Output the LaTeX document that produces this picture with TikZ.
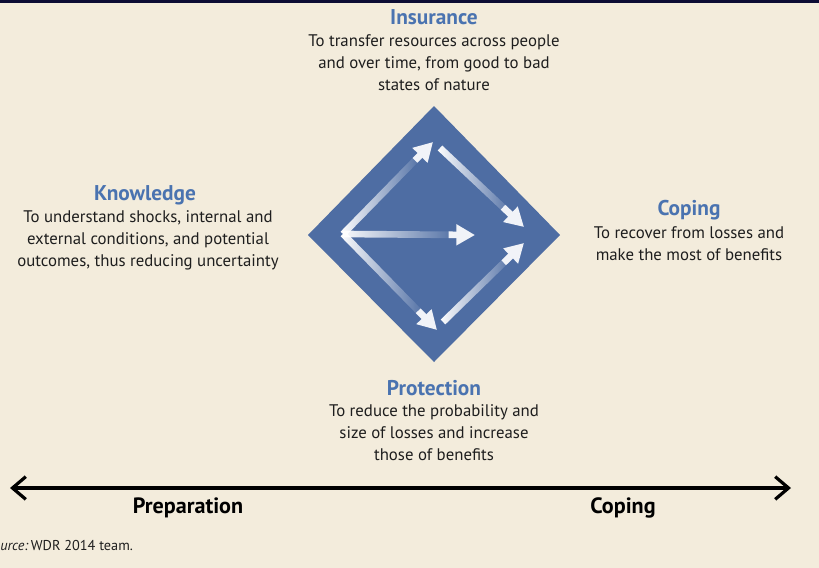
\documentclass[tikz,border=0pt]{standalone}
\usepackage{fontspec}
\setmainfont{PT Sans}
\usetikzlibrary{arrows.meta,fadings,calc}
\definecolor{bgcream}{RGB}{243,236,220}
\definecolor{diamondblue}{RGB}{78,109,163}
\definecolor{titleblue}{RGB}{74,115,176}
\definecolor{navyband}{RGB}{12,12,52}
\definecolor{bodytext}{RGB}{30,30,30}
\tikzset{
  titletext/.style={font=\fontsize{16}{18}\selectfont\bfseries, text=titleblue, inner sep=0pt, anchor=center},
  desctext/.style={font=\fontsize{12.6}{16.6}\selectfont, text=bodytext, align=center, inner sep=0pt, anchor=north},
  axislabel/.style={font=\fontsize{16.6}{18}\selectfont\bfseries, text=black, inner sep=0pt},
  shaft/.style={draw=white, line width=5pt, path fading=east},
  headtip/.style={draw=white!92!diamondblue, line width=5pt, -{Triangle[length=14pt,width=15pt]}},
  timeline/.style={draw=black, line width=2.3pt, {Straight Barb[length=10pt,width=17pt,line width=2.4pt]}-{Straight Barb[length=10pt,width=17pt,line width=2.4pt]}}
}
\begin{document}
\begin{tikzpicture}[x=0.75pt,y=-0.75pt]
\fill[bgcream] (0,0) rectangle (819,568);
\useasboundingbox (0,0) rectangle (819,568);
\fill[navyband] (0,0) rectangle (819,3);
% diamond
\fill[diamondblue] (308,235) -- (434,106) -- (560,235) -- (434,362) -- cycle;
% arrow coordinates
\coordinate (o) at (343,234);
\coordinate (t) at (433,142);
\coordinate (m) at (475,235);
\coordinate (b) at (437,330);
\coordinate (ts) at (440,148);
\coordinate (re1) at (524,227);
\coordinate (bs) at (443,322);
\coordinate (re2) at (524,243);
% shafts with fading
\path[shaft] (o) -- ($(o)!0.85!(t)$);
\path[shaft] (o) -- ($(o)!0.85!(m)$);
\path[shaft] (o) -- ($(o)!0.85!(b)$);
\path[shaft] (ts) -- ($(ts)!0.85!(re1)$);
\path[shaft] (bs) -- ($(bs)!0.85!(re2)$);
% heads
\draw[headtip] ($(o)!0.8!(t)$) -- (t);
\draw[headtip] ($(o)!0.8!(m)$) -- (m);
\draw[headtip] ($(o)!0.8!(b)$) -- (b);
\draw[headtip] ($(ts)!0.75!(re1)$) -- (re1);
\draw[headtip] ($(bs)!0.75!(re2)$) -- (re2);
% texts
\node[titletext] (ins) at (434,17) {Insurance};
\node[desctext] (insd) at (434,34) {To transfer resources across people\\and over time, from good to bad\\states of nature};
\node[titletext] (kn) at (145,195) {Knowledge};
\node[desctext] (knd) at (148,210) {To understand shocks, internal and\\external conditions, and potential\\outcomes, thus reducing uncertainty};
\node[titletext] (cp) at (689,210) {Coping};
\node[desctext] (cpd) at (689,226) {To recover from losses and\\make the most of benefits};
\node[titletext] (pr) at (434,388) {Protection};
\node[desctext] (prd) at (434,404) {To reduce the probability and\\size of losses and increase\\those of benefits};
% timeline
\coordinate (tl) at (10,488);
\coordinate (tr) at (791,488);
\draw[timeline] (tl) -- (tr);
\node[axislabel] (prep) at (188,508) {Preparation};
\node[axislabel] (cop) at (623,508) {Coping};
\node[font=\fontsize{10.7}{12}\selectfont, anchor=west, inner sep=0pt, text=bodytext] (src) at (0,546) {\textit{urce:}\,WDR 2014 team.};
\end{tikzpicture}
\end{document}
